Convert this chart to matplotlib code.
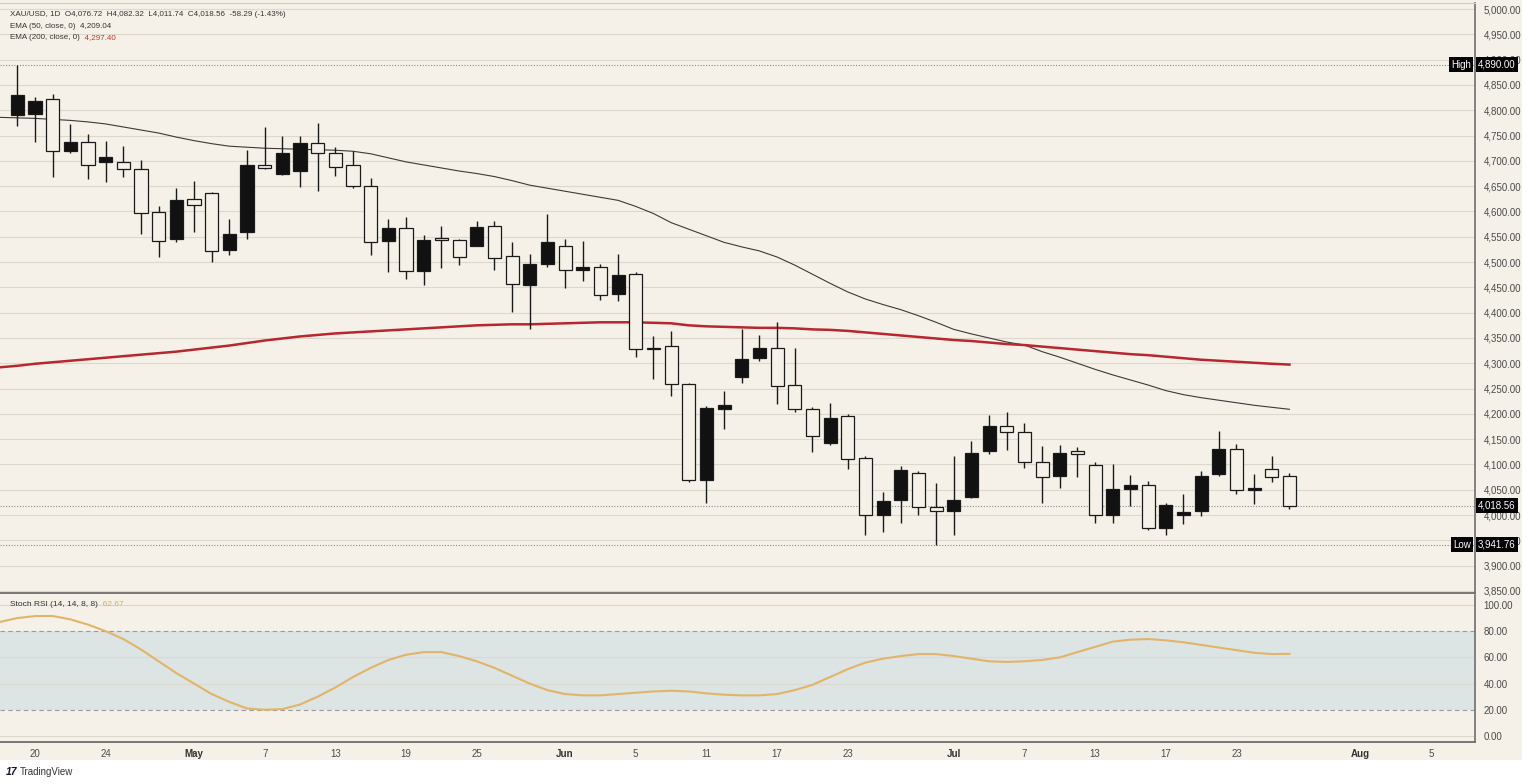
import matplotlib
matplotlib.use("Agg")
import matplotlib.pyplot as plt
import matplotlib.transforms as mtransforms
from matplotlib.patches import Rectangle
import numpy as np

# daily candles
opens = [4790, 4792, 4822, 4720, 4738, 4698, 4698, 4684, 4598, 4545, 4625, 4637, 4523, 4559,
         4691, 4674, 4679, 4736, 4715, 4692, 4650, 4541, 4567, 4482, 4547, 4543, 4532, 4571,
         4512, 4455, 4496, 4532, 4484, 4490, 4436, 4476, 4330, 4334, 4260, 4070, 4210, 4272,
         4310, 4330, 4258, 4210, 4142, 4195, 4112, 4000, 4030, 4084, 4016, 4008, 4036, 4126,
         4177, 4165, 4105, 4078, 4126, 4099, 4000, 4052, 4060, 3975, 4001, 4008, 4081, 4131,
         4049, 4092, 4076.72]
highs = [4890, 4827, 4832, 4773, 4754, 4740, 4730, 4702, 4610, 4647, 4660, 4638, 4586, 4722,
         4766, 4750, 4750, 4775, 4727, 4720, 4666, 4585, 4590, 4553, 4572, 4546, 4582, 4582,
         4540, 4516, 4595, 4545, 4541, 4496, 4515, 4481, 4354, 4363, 4261, 4215, 4246, 4368,
         4355, 4382, 4331, 4214, 4222, 4199, 4116, 4046, 4096, 4087, 4064, 4117, 4146, 4197,
         4203, 4182, 4136, 4138, 4134, 4104, 4101, 4080, 4067, 4024, 4041, 4088, 4166, 4141,
         4082, 4116, 4082.32]
lows = [4768, 4737, 4668, 4715, 4664, 4658, 4668, 4556, 4511, 4540, 4560, 4501, 4514, 4546,
        4684, 4673, 4649, 4640, 4670, 4646, 4513, 4481, 4466, 4455, 4489, 4494, 4531, 4484,
        4401, 4367, 4490, 4448, 4463, 4426, 4424, 4312, 4268, 4236, 4066, 4024, 4170, 4262,
        4305, 4220, 4203, 4124, 4139, 4092, 3960, 3966, 3984, 4000, 3941.76, 3961, 4034, 4121,
        4129, 4093, 4024, 4054, 4075, 3985, 3985, 4018, 3970, 3960, 3983, 3999, 4078, 4041,
        4022, 4066, 4011.74]
closes = [4830, 4819, 4719, 4738, 4692, 4708, 4683, 4596, 4542, 4622, 4613, 4521, 4556, 4691,
          4686, 4716, 4736, 4716, 4688, 4650, 4540, 4567, 4482, 4544, 4543, 4510, 4570, 4508,
          4457, 4496, 4539, 4484, 4490, 4434, 4474, 4328, 4329, 4260, 4070, 4211, 4218, 4308,
          4330, 4256, 4210, 4156, 4192, 4111, 4000, 4027, 4090, 4015, 4008, 4030, 4122, 4176,
          4165, 4105, 4076, 4123, 4120, 4000, 4052, 4060, 3975, 4019, 4007, 4078, 4131, 4049,
          4054, 4076, 4018.56]

# indicator lines, one value per bar starting one bar before the first candle
ema50 = [4786, 4785, 4784, 4782, 4780, 4777, 4773, 4767, 4761, 4755, 4747, 4740, 4734, 4729,
         4727, 4725, 4724, 4723, 4722, 4721, 4719, 4714, 4706, 4698, 4692, 4686, 4680, 4675,
         4669, 4661, 4652, 4646, 4640, 4634, 4628, 4622, 4610, 4596, 4578, 4565, 4552, 4539,
         4530, 4522, 4510, 4494, 4476, 4458, 4441, 4427, 4416, 4406, 4394, 4381, 4367, 4358,
         4350, 4342, 4336, 4323, 4312, 4300, 4288, 4277, 4267, 4257, 4246, 4238, 4232, 4227,
         4222, 4217, 4213, 4209.04]
ema200 = [4292, 4295, 4299, 4302, 4305, 4308, 4311, 4314, 4317, 4320, 4323, 4327, 4331, 4335,
          4340, 4345, 4349, 4353, 4356, 4359, 4361, 4363, 4365, 4367, 4369, 4371, 4373, 4375,
          4376, 4377, 4377, 4378, 4379, 4380, 4381, 4381, 4381, 4380, 4379, 4375, 4373, 4372,
          4371, 4370, 4370, 4369, 4367, 4366, 4364, 4361, 4358, 4355, 4352, 4349, 4346, 4344,
          4341, 4338, 4336, 4333, 4330, 4327, 4324, 4321, 4318, 4316, 4313, 4310, 4307, 4305,
          4303, 4301, 4299, 4297.40]
stoch_rsi = [87, 90, 91.5, 91.6, 89, 85, 80, 74, 66, 57, 48, 40, 32, 26, 21, 20, 20.5, 24, 30,
             37, 45, 52, 58, 62, 64, 64, 61, 57, 52, 46, 40, 35, 32, 31, 31, 32, 33, 34, 34.5,
             34, 32.5, 31.5, 31, 31, 32, 35, 39, 45, 51, 56, 59, 61, 62.5, 62.5, 61, 59, 57,
             56.5, 57, 58, 60, 64, 68, 72, 73.5, 74, 73, 71.5, 69.5, 67.5, 65.5, 63.5, 62.5, 62.67]

tick_idx = [1, 5, 10, 14, 18, 22, 26, 31, 35, 39, 43, 47, 53, 57, 61, 65, 69, 76, 80]
tick_labels = ["20", "24", "May", "7", "13", "19", "25", "Jun", "5", "11", "17", "23",
               "Jul", "7", "13", "17", "23", "Aug", "5"]
months = ["May", "Jun", "Jul", "Aug"]
price_ticks = np.arange(3850, 5001, 50)
rsi_ticks = [0, 20, 40, 60, 80, 100]

BG = "#f5f1e8"
GRID = "#dcd8ce"
AXLINE = "#6e6e6e"
TXT = "#4a4a4a"
plt.rcParams["font.family"] = ["Liberation Sans", "DejaVu Sans"]

W, H = 1528, 784
fig = plt.figure(figsize=(W / 100, H / 100), dpi=100, facecolor="white")
fig.patches.append(Rectangle((0, 24 / H), 1522 / W, 1 - 24 / H, transform=fig.transFigure,
                             facecolor=BG, edgecolor="none", zorder=-10))

ax = fig.add_axes([0, (H - 593) / H, 1475 / W, 590 / H])
rx = fig.add_axes([0, (H - 742) / H, 1475 / W, 147 / H], sharex=ax)
for a in (ax, rx):
    a.set_facecolor("none")
    for s in ("top", "left"):
        a.spines[s].set_visible(False)
    a.spines["right"].set_color(AXLINE)
    a.spines["right"].set_linewidth(1.2)
    a.spines["bottom"].set_color(AXLINE)
    a.spines["bottom"].set_linewidth(1.3)
ax.spines["top"].set_visible(True)
ax.spines["top"].set_color("#cfcbc2")

n = len(closes)
x = np.arange(n)
xe = np.arange(-1, n)
o = np.array(opens)
c = np.array(closes)
up = c > o

# candles: filled black = close above open, hollow = close below open
ax.vlines(x, lows, highs, color="#1a1a1a", lw=1.0, zorder=3)
body_lo = np.minimum(o, c)
body_h = np.maximum(np.abs(c - o), 1.2)
ax.bar(x, body_h, bottom=body_lo, width=0.74,
       color=np.where(up, "#111111", BG), edgecolor="#1a1a1a", linewidth=0.9, zorder=4)

ax.plot(xe, ema50, color="#3a3a3a", lw=0.8, zorder=2)
ax.plot(xe, ema200, color="#b8262e", lw=1.8, zorder=2)

dot = (0, (1, 1.5))
ax.axhline(max(highs), color="#8a8a8a", lw=0.8, ls=dot, zorder=1)
ax.axhline(closes[-1], color="#8a8a8a", lw=0.8, ls=dot, zorder=1)
ax.axhline(min(lows), color="#8a8a8a", lw=0.8, ls=dot, zorder=1)

ax.set_xlim(-0.98, 82.5)
ax.set_ylim(3846, 5012)
ax.set_yticks(price_ticks)
ax.set_yticklabels([f"{v:,.2f}" for v in price_ticks])
ax.yaxis.tick_right()
ax.tick_params(axis="y", length=0, pad=6, labelsize=7, labelcolor=TXT)
ax.tick_params(axis="x", length=0, labelbottom=False)
ax.grid(axis="y", color=GRID, lw=0.8, zorder=0)

# price tags on the axis
tr = mtransforms.blended_transform_factory(ax.transAxes, ax.transData)
box = dict(boxstyle="square,pad=0.25", fc="black", ec="none")
for val, tag in [(max(highs), "High"), (closes[-1], None), (min(lows), "Low")]:
    ax.text(1 + 3 / 1475, val, f"{val:,.2f}", transform=tr, ha="left", va="center",
            fontsize=7, color="white", bbox=box, zorder=6)
    if tag:
        ax.text(1 - 4 / 1475, val, tag, transform=tr, ha="right", va="center",
                fontsize=7, color="white", bbox=box, zorder=6)

# header text
ax.text(0.007, 0.981, "XAU/USD, 1D  O4,076.72  H4,082.32  L4,011.74  C4,018.56  -58.29 (-1.43%)",
        transform=ax.transAxes, fontsize=5.8, color="#333333", va="center")
ax.text(0.007, 0.961, "EMA (50, close, 0)  4,209.04", transform=ax.transAxes,
        fontsize=5.8, color="#333333", va="center")
t = ax.text(0.007, 0.942, "EMA (200, close, 0)", transform=ax.transAxes,
            fontsize=5.8, color="#333333", va="center")
ax.annotate("  4,297.40", xy=(1, 0), xycoords=t, va="bottom", fontsize=5.8, color="#c0392b")

# stoch rsi panel
rx.axhspan(20, 80, color="#dce4e4", zorder=0, lw=0)
for v in (0, 40, 60, 100):
    rx.axhline(v, color=GRID, lw=0.8, zorder=1)
for v in (20, 80):
    rx.axhline(v, color="#9a9a9a", lw=0.8, ls=(0, (4, 3)), zorder=1)
rx.plot(xe, stoch_rsi, color="#e2b46a", lw=1.5, zorder=3)
rx.set_ylim(-4.6, 107.6)
rx.set_yticks(rsi_ticks)
rx.set_yticklabels([f"{v:.2f}" for v in rsi_ticks])
rx.yaxis.tick_right()
rx.tick_params(axis="y", length=0, pad=6, labelsize=7, labelcolor=TXT)
rx.set_xticks(tick_idx)
rx.set_xticklabels(tick_labels)
rx.tick_params(axis="x", length=0, pad=5, labelsize=7, labelcolor=TXT)
for lab in rx.get_xticklabels():
    if lab.get_text() in months:
        lab.set_fontweight("bold")
        lab.set_color("#333333")

t2 = rx.text(0.007, 0.935, "Stoch RSI (14, 14, 8, 8)", transform=rx.transAxes,
             fontsize=6, color="#333333", va="center")
rx.annotate("  62.67", xy=(1, 0), xycoords=t2, va="bottom", fontsize=6, color="#d9aa62")

fig.text(6 / W, (H - 772) / H, "17", fontsize=7.5, fontweight="bold", color="#131722",
         va="center", style="italic")
fig.text(20 / W, (H - 772) / H, "TradingView", fontsize=7, color="#333333", va="center")

fig.savefig("out.png", dpi=100, facecolor=fig.get_facecolor())
